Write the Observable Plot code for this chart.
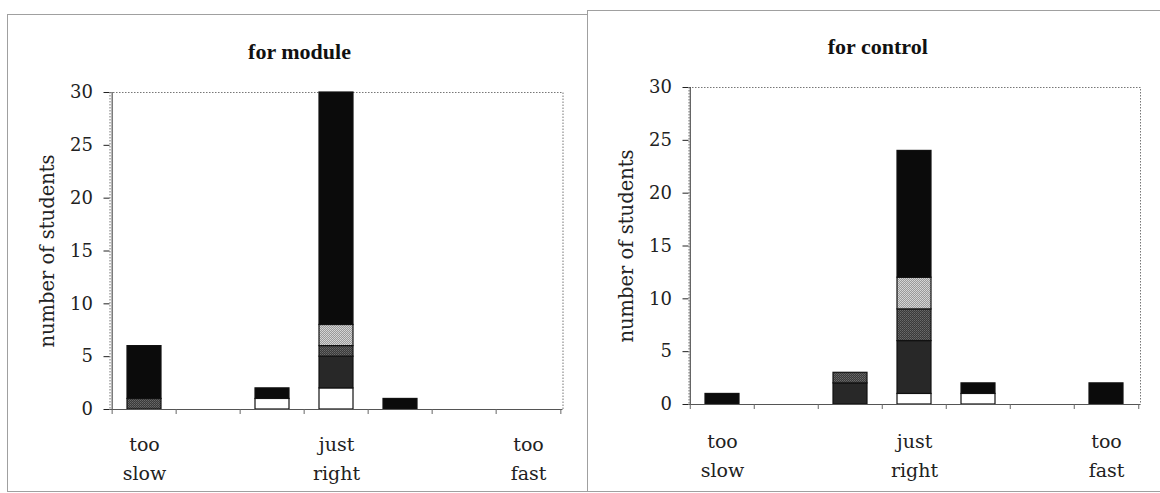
<!DOCTYPE html>
<html><head><meta charset="utf-8">
<script src="https://cdn.jsdelivr.net/npm/d3@7"></script>
<script src="https://cdn.jsdelivr.net/npm/@observablehq/plot@0.6"></script>
<style>
html,body{margin:0;padding:0;background:#fff;}
#wrap{position:relative;width:1160px;height:493px;overflow:hidden;background:#fff;}
.box{position:absolute;border:1px solid #a0a0a0;box-sizing:border-box;pointer-events:none;}
#wrap > svg{position:absolute;top:0;}
</style></head><body>
<svg width="0" height="0" style="position:absolute">
  <defs>
    <pattern id="patDark" width="2" height="2" patternUnits="userSpaceOnUse">
      <rect width="2" height="2" fill="#3a3a3a"/>
      <rect width="1" height="1" fill="#6a6a6a"/>
      <rect x="1" y="1" width="1" height="1" fill="#5a5a5a"/>
    </pattern>
    <pattern id="patLight" width="2" height="2" patternUnits="userSpaceOnUse">
      <rect width="2" height="2" fill="#9a9a9a"/>
      <rect width="1" height="1" fill="#d8d8d8"/>
      <rect x="1" y="1" width="1" height="1" fill="#cfcfcf"/>
    </pattern>
  </defs>
</svg>
<div id="wrap"></div>
<script>
// ---- data ----
const categories = ["c1","c2","c3","c4","c5","c6","c7"];
const categoryLabels = ["too\nslow","","","just\nright","","","too\nfast"];
const series = ["s1","s2","s3","s4","s5"];
const seriesColors = ["#ffffff","#282828","url(#patDark)","url(#patLight)","#0b0b0b"];
const yTicks = [0,5,10,15,20,25,30];
const yLabel = "number of students";
const moduleTitle = "for module";
const controlTitle = "for control";

// values per series, by category (bottom segment first)
const moduleS1 = [0,0,1,2,0,0,0];
const moduleS2 = [0,0,0,3,0,0,0];
const moduleS3 = [1,0,0,1,0,0,0];
const moduleS4 = [0,0,0,2,0,0,0];
const moduleS5 = [5,0,1,22,1,0,0];

const controlS1 = [0,0,0,1,1,0,0];
const controlS2 = [0,0,2,5,0,0,0];
const controlS3 = [0,0,1,3,0,0,0];
const controlS4 = [0,0,0,3,0,0,0];
const controlS5 = [1,0,0,12,1,0,2];

function rowsOf(lists){
  const rows = [];
  lists.forEach((vals, si) => vals.forEach((v, ci) => {
    if (v > 0) rows.push({cat: categories[ci], series: series[si], value: v});
  }));
  return rows;
}
const labelRows = categories.map((c,i)=>({cat:c, label:categoryLabels[i]}));

const serif = "DejaVu Serif";
function panel(o){
  const W = 580, H = 493;
  const step = (W - o.ml - o.mr) / categories.length;
  const svg = Plot.plot({
    width: W, height: H,
    marginLeft: o.ml, marginRight: o.mr, marginTop: o.mt, marginBottom: o.mb,
    style: {background: "transparent", fontFamily: serif, color: "#222"},
    x: {domain: categories, paddingInner: 0.475, paddingOuter: 0.2375},
    y: {domain: [0, 30]},
    color: {domain: series, range: seriesColors},
    marks: [
      Plot.frame({stroke: "#777", strokeDasharray: "1.5,1.5"}),
      Plot.barY(o.rows, {x: "cat", y: "value", fill: "series", stroke: "#111", strokeWidth: 1.2}),
      Plot.ruleY([0], {stroke: "#555"}),
      Plot.ruleX([categories[0]], {dx: -step/2, stroke: "#333"}),
      Plot.axisY({ticks: yTicks, tickSize: 6, tickPadding: 11, fontSize: 18, fontFamily: serif, label: null}),
      Plot.axisX({tickSize: 5, tickFormat: () => "", dx: -step/2, label: null, stroke: "#666"}),
      Plot.axisX({ticks: [categories[categories.length-1]], tickSize: 5, tickFormat: () => "", dx: step/2, label: null, stroke: "#666"}),
      Plot.text(labelRows, {x: "cat", text: "label", frameAnchor: "bottom", dy: o.catDy, lineAnchor: "top", lineHeight: 1.53, fontSize: 19, fontFamily: serif, fill: "#222"}),
      Plot.text([yLabel], {text: d => d, frameAnchor: "left", textAnchor: "middle", rotate: -90, dx: o.labDx, lineAnchor: "bottom", fontSize: 19.5, fontFamily: serif, fill: "#222"}),
      Plot.text([o.title], {text: d => d, frameAnchor: "top", textAnchor: "middle", dx: o.titleDx, dy: o.titleDy, lineAnchor: "bottom", fontSize: 22, fontWeight: "bold", fontFamily: "Liberation Serif", fill: "#111"})
    ]
  });
  svg.style.left = o.left + "px";
  return svg;
}

const wrap = document.getElementById("wrap");
wrap.appendChild(panel({
  left: 0, ml: 109.5, mr: 17.5, mt: 92, mb: 84,
  rows: rowsOf([moduleS1, moduleS2, moduleS3, moduleS4, moduleS5]),
  title: moduleTitle, titleDx: -37, titleDy: -34, catDy: 20.5, labDx: -56
}));
wrap.appendChild(panel({
  left: 580, ml: 108.5, mr: 20, mt: 87, mb: 89,
  rows: rowsOf([controlS1, controlS2, controlS3, controlS4, controlS5]),
  title: controlTitle, titleDx: -37, titleDy: -34, catDy: 22.5, labDx: -56.5
}));

function box(l,t,w,h){ const d=document.createElement("div"); d.className="box";
  d.style.left=l+"px"; d.style.top=t+"px"; d.style.width=w+"px"; d.style.height=h+"px"; wrap.appendChild(d); }
box(7, 14, 581, 478);
box(587, 10, 600, 482);
</script></body></html>
